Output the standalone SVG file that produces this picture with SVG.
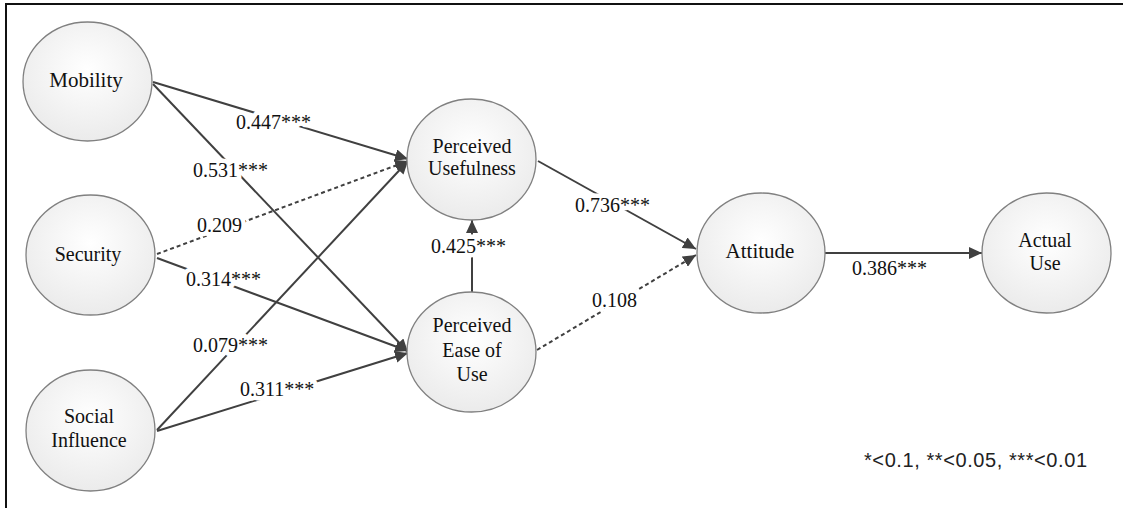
<svg xmlns="http://www.w3.org/2000/svg" width="1123" height="508" viewBox="0 0 1123 508">
<style>
.node ellipse{fill:url(#g);stroke:#808080;stroke-width:1.3}
.nt{font-family:'Liberation Serif','Times New Roman',serif;font-size:20px;fill:#111;text-anchor:middle}
.e{stroke:#404040;stroke-width:2;fill:none;marker-end:url(#ah)}
.d{stroke-dasharray:4 3}
.lb{font-family:'Liberation Serif','Times New Roman',serif;font-size:20px;fill:#111;stroke:#fff;stroke-width:9;stroke-linejoin:round;paint-order:stroke}
.lg{font-family:'Liberation Sans',Arial,sans-serif;font-size:20px;fill:#222}
</style>
<defs>
<radialGradient id="g" cx="50%" cy="40%" r="60%">
<stop offset="0" stop-color="#ffffff"/>
<stop offset="1" stop-color="#ebebeb"/>
</radialGradient>
<marker id="ah" markerUnits="userSpaceOnUse" markerWidth="14" markerHeight="12" refX="13" refY="6" orient="auto">
<path d="M0,0 L13,6 L0,12 z" fill="#404040"/>
</marker>
</defs>
<rect width="1123" height="508" fill="#fff"/>
<rect x="6" y="4" width="1140" height="530" fill="none" stroke="#111" stroke-width="2"/>
<g id="connectors">
<line class="e" x1="153" y1="82" x2="408" y2="159"/>
<line class="e" x1="153" y1="84" x2="408" y2="352"/>
<line class="e d" x1="157" y1="254" x2="408" y2="161"/>
<line class="e" x1="157" y1="258" x2="408" y2="351"/>
<line class="e" x1="157" y1="430" x2="408" y2="161"/>
<line class="e" x1="157" y1="431" x2="408" y2="353"/>
<line class="e" x1="472" y1="292" x2="472" y2="220"/>
<line class="e" x1="538" y1="161" x2="696" y2="249"/>
<line class="e d" x1="537" y1="350" x2="696" y2="255"/>
<line class="e" x1="825" y1="253" x2="982" y2="253"/>
<text class="lb" x="236" y="129">0.447***</text>
<text class="lb" x="193" y="177">0.531***</text>
<text class="lb" x="197" y="232">0.209</text>
<text class="lb" x="186" y="286">0.314***</text>
<text class="lb" x="193" y="352">0.079***</text>
<text class="lb" x="240" y="396">0.311***</text>
<text class="lb" x="431" y="253">0.425***</text>
<text class="lb" x="575" y="212">0.736***</text>
<text class="lb" x="592" y="307">0.108</text>
<text class="lb" x="852" y="275">0.386***</text>
</g>
<g id="mobility" class="node"><ellipse cx="87.5" cy="81.5" rx="64.5" ry="59.5"/><text class="nt" x="86" y="87" style="font-size:21px">Mobility</text></g>
<g id="security" class="node"><ellipse cx="90.5" cy="255" rx="64.5" ry="60"/><text class="nt" x="88" y="261">Security</text></g>
<g id="social" class="node"><ellipse cx="90.5" cy="430.5" rx="64.5" ry="60.5"/><text class="nt" x="89" y="423">Social</text><text class="nt" x="89" y="447">Influence</text></g>
<g id="pu" class="node"><ellipse cx="471.5" cy="159.5" rx="64.5" ry="60.5"/><text class="nt" x="472" y="153">Perceived</text><text class="nt" x="472" y="175">Usefulness</text></g>
<g id="peou" class="node"><ellipse cx="471.5" cy="352" rx="64.5" ry="60"/><text class="nt" x="472" y="332">Perceived</text><text class="nt" x="472" y="357">Ease of</text><text class="nt" x="472" y="381">Use</text></g>
<g id="attitude" class="node"><ellipse cx="761" cy="253" rx="64" ry="60"/><text class="nt" x="760" y="258" style="font-size:21px">Attitude</text></g>
<g id="actual" class="node"><ellipse cx="1046.5" cy="253" rx="64.5" ry="60"/><text class="nt" x="1045" y="247">Actual</text><text class="nt" x="1045" y="270">Use</text></g>
<text class="lg" x="864" y="467" textLength="223">*&lt;0.1, **&lt;0.05, ***&lt;0.01</text>
</svg>
